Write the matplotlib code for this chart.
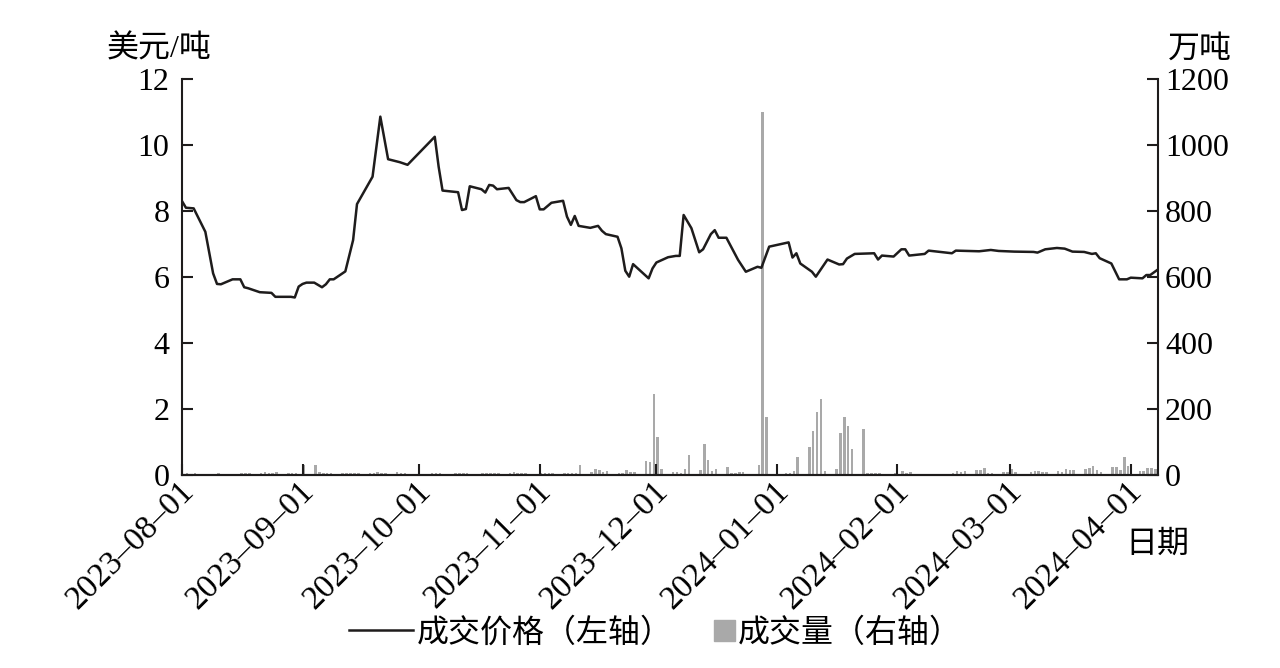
import matplotlib
matplotlib.use("Agg")
import matplotlib.pyplot as plt
import matplotlib.dates as mdates
import matplotlib.transforms as mtrans
import pandas as pd
from matplotlib.lines import Line2D
from matplotlib.patches import Patch

plt.rcParams['font.family'] = ['Liberation Serif', 'Noto Sans CJK SC']
plt.rcParams['axes.unicode_minus'] = False

# ---- price line (USD / t, left axis) ----
price_dates = [
    "2023-08-01", "2023-08-02", "2023-08-04", "2023-08-07", "2023-08-09", "2023-08-10",
    "2023-08-11", "2023-08-14", "2023-08-16", "2023-08-17", "2023-08-18", "2023-08-21",
    "2023-08-24", "2023-08-25", "2023-08-29", "2023-08-30", "2023-08-31", "2023-09-01",
    "2023-09-02", "2023-09-04", "2023-09-06", "2023-09-07", "2023-09-08", "2023-09-09",
    "2023-09-11", "2023-09-12", "2023-09-14", "2023-09-15", "2023-09-19", "2023-09-21",
    "2023-09-23", "2023-09-26", "2023-09-28", "2023-10-05", "2023-10-06", "2023-10-07",
    "2023-10-11", "2023-10-12", "2023-10-13", "2023-10-14", "2023-10-17", "2023-10-18",
    "2023-10-19", "2023-10-20", "2023-10-21", "2023-10-24", "2023-10-26", "2023-10-27",
    "2023-10-28", "2023-10-31", "2023-11-01", "2023-11-02", "2023-11-04", "2023-11-07",
    "2023-11-08", "2023-11-09", "2023-11-10", "2023-11-11", "2023-11-14", "2023-11-16",
    "2023-11-17", "2023-11-18", "2023-11-21", "2023-11-22", "2023-11-23", "2023-11-24",
    "2023-11-25", "2023-11-29", "2023-11-30", "2023-12-01", "2023-12-04", "2023-12-06",
    "2023-12-07", "2023-12-08", "2023-12-10", "2023-12-12", "2023-12-13", "2023-12-15",
    "2023-12-16", "2023-12-17", "2023-12-19", "2023-12-22", "2023-12-24", "2023-12-27",
    "2023-12-28", "2023-12-30", "2024-01-04", "2024-01-05", "2024-01-06", "2024-01-07",
    "2024-01-10", "2024-01-11", "2024-01-14", "2024-01-17", "2024-01-18", "2024-01-19",
    "2024-01-21", "2024-01-26", "2024-01-27", "2024-01-28", "2024-01-31", "2024-02-02",
    "2024-02-03", "2024-02-04", "2024-02-08", "2024-02-09", "2024-02-15", "2024-02-16",
    "2024-02-22", "2024-02-25", "2024-02-27", "2024-03-02", "2024-03-07", "2024-03-08",
    "2024-03-10", "2024-03-13", "2024-03-15", "2024-03-17", "2024-03-20", "2024-03-22",
    "2024-03-23", "2024-03-24", "2024-03-27", "2024-03-29", "2024-03-31", "2024-04-01",
    "2024-04-04", "2024-04-05", "2024-04-06", "2024-04-08",
]
price_values = [
    8.30, 8.10, 8.08, 7.37, 6.11, 5.79,
    5.78, 5.93, 5.93, 5.69, 5.66, 5.54,
    5.52, 5.40, 5.40, 5.38, 5.71, 5.79,
    5.83, 5.83, 5.69, 5.78, 5.93, 5.93,
    6.09, 6.17, 7.12, 8.21, 9.04, 10.86,
    9.57, 9.48, 9.40, 10.25, 9.34, 8.62,
    8.57, 8.03, 8.06, 8.75, 8.66, 8.56,
    8.79, 8.77, 8.66, 8.70, 8.33, 8.27,
    8.27, 8.45, 8.05, 8.05, 8.25, 8.31,
    7.83, 7.58, 7.85, 7.55, 7.49, 7.55,
    7.40, 7.30, 7.22, 6.87, 6.19, 6.01,
    6.39, 5.96, 6.26, 6.44, 6.60, 6.64,
    6.64, 7.88, 7.48, 6.75, 6.84, 7.30,
    7.42, 7.19, 7.19, 6.52, 6.16, 6.31,
    6.28, 6.92, 7.05, 6.59, 6.72, 6.41,
    6.16, 6.01, 6.53, 6.38, 6.39, 6.56,
    6.70, 6.72, 6.53, 6.65, 6.62, 6.84,
    6.84, 6.65, 6.70, 6.80, 6.72, 6.80,
    6.78, 6.82, 6.79, 6.77, 6.76, 6.74,
    6.84, 6.88, 6.86, 6.77, 6.76, 6.70,
    6.72, 6.57, 6.41, 5.93, 5.93, 5.98,
    5.96, 6.06, 6.06, 6.23,
]

# ---- traded volume (10k t, right axis) ----
volume_dates = [
    "2023-08-02", "2023-08-04", "2023-08-07", "2023-08-08", "2023-08-09", "2023-08-10",
    "2023-08-16", "2023-08-17", "2023-08-18", "2023-08-21", "2023-08-22", "2023-08-23",
    "2023-08-24", "2023-08-25", "2023-08-28", "2023-08-29", "2023-08-30",
    "2023-09-01", "2023-09-04", "2023-09-05", "2023-09-06", "2023-09-07", "2023-09-08",
    "2023-09-11", "2023-09-12", "2023-09-13", "2023-09-14", "2023-09-15", "2023-09-18",
    "2023-09-19", "2023-09-20", "2023-09-21", "2023-09-22", "2023-09-25", "2023-09-26",
    "2023-09-27",
    "2023-10-04", "2023-10-05", "2023-10-06", "2023-10-10", "2023-10-11", "2023-10-12",
    "2023-10-13", "2023-10-17", "2023-10-18", "2023-10-19", "2023-10-20", "2023-10-21",
    "2023-10-24", "2023-10-25", "2023-10-26", "2023-10-27", "2023-10-28",
    "2023-11-01", "2023-11-02", "2023-11-03", "2023-11-04", "2023-11-07", "2023-11-08",
    "2023-11-09", "2023-11-10", "2023-11-11", "2023-11-14", "2023-11-15", "2023-11-16",
    "2023-11-17", "2023-11-18", "2023-11-21", "2023-11-22", "2023-11-23", "2023-11-24",
    "2023-11-25", "2023-11-28", "2023-11-29", "2023-11-30",
    "2023-12-01", "2023-12-02", "2023-12-05", "2023-12-06", "2023-12-07", "2023-12-08",
    "2023-12-09", "2023-12-12", "2023-12-13", "2023-12-14", "2023-12-15", "2023-12-16",
    "2023-12-19", "2023-12-20", "2023-12-21", "2023-12-22", "2023-12-23", "2023-12-27",
    "2023-12-28", "2023-12-29",
    "2024-01-03", "2024-01-04", "2024-01-05", "2024-01-06", "2024-01-09", "2024-01-10",
    "2024-01-11", "2024-01-12", "2024-01-13", "2024-01-16", "2024-01-17", "2024-01-18",
    "2024-01-19", "2024-01-20", "2024-01-23", "2024-01-24", "2024-01-25", "2024-01-26",
    "2024-01-27", "2024-01-31",
    "2024-02-02", "2024-02-03", "2024-02-04", "2024-02-07", "2024-02-08", "2024-02-09",
    "2024-02-10", "2024-02-15", "2024-02-16", "2024-02-17", "2024-02-18", "2024-02-21",
    "2024-02-22", "2024-02-23", "2024-02-24", "2024-02-25", "2024-02-28", "2024-02-29",
    "2024-03-01", "2024-03-02", "2024-03-06", "2024-03-07", "2024-03-08", "2024-03-09",
    "2024-03-10", "2024-03-13", "2024-03-14", "2024-03-15", "2024-03-16", "2024-03-17",
    "2024-03-20", "2024-03-21", "2024-03-22", "2024-03-23", "2024-03-24", "2024-03-27",
    "2024-03-28", "2024-03-29", "2024-03-30", "2024-03-31",
    "2024-04-03", "2024-04-04", "2024-04-05", "2024-04-06", "2024-04-07",
]
volume_values = [
    5, 5, 4, 4, 4, 7,
    5, 5, 5, 5, 8, 7,
    7, 9, 5, 7, 7,
    31, 30, 9, 5, 5, 5,
    5, 5, 7, 5, 5, 5,
    5, 8, 7, 5, 9, 7,
    7,
    5, 5, 5, 5, 5, 5,
    5, 5, 5, 6, 6, 5,
    6, 8, 5, 5, 5,
    5, 5, 5, 5, 5, 7,
    5, 5, 29, 10, 17, 15,
    9, 11, 5, 7, 14, 9,
    10, 43, 40, 245,
    114, 17, 9, 9, 5, 19,
    62, 14, 94, 44, 11, 17,
    23, 5, 5, 9, 9, 29,
    1100, 175,
    7, 7, 12, 56, 85, 134,
    192, 231, 13, 17, 126, 175,
    150, 78, 140, 5, 5, 7,
    5, 5,
    13, 7, 9, 4, 4, 4,
    4, 6, 13, 8, 11, 14,
    15, 21, 5, 5, 8, 8,
    17, 9, 9, 13, 12, 10,
    9, 12, 9, 17, 15, 15,
    19, 22, 27, 15, 9, 25,
    25, 15, 54, 27,
    11, 11, 20, 20, 19,
]

left_ticks = [0, 2, 4, 6, 8, 10, 12]
right_ticks = [0, 200, 400, 600, 800, 1000, 1200]

ink = '#1e1c1c'
bar_grey = '#a9a9a9'
fs = 23

fig = plt.figure(figsize=(12.8, 6.68), dpi=100)
ax = fig.add_axes([0.1422, 0.2889, 0.7625, 0.5928])
ax2 = ax.twinx()

ax2.bar(pd.to_datetime(volume_dates), volume_values, width=0.65, align='edge',
        color=bar_grey, linewidth=0)
ax.plot(pd.to_datetime(price_dates), price_values, color=ink, lw=1.8)

ax.set_zorder(ax2.get_zorder() + 1)
ax.patch.set_visible(False)

ax.set_xlim(pd.Timestamp("2023-08-01"), pd.Timestamp("2024-04-08"))
ax.set_ylim(0, 12)
ax2.set_ylim(0, 1200)
ax.set_yticks(left_ticks)
ax2.set_yticks(right_ticks)

ax.xaxis.set_major_locator(mdates.MonthLocator())
ax.xaxis.set_major_formatter(mdates.DateFormatter('%Y–%m–%d'))

for a in (ax, ax2):
    a.spines['top'].set_visible(False)
    for s in a.spines.values():
        s.set_linewidth(1.5)
        s.set_color(ink)
ax.spines['right'].set_visible(False)
ax2.spines['left'].set_visible(False)

ax.tick_params(axis='y', direction='in', length=8, width=1.5, color=ink,
               labelsize=fs, pad=9)
ax2.tick_params(axis='y', direction='in', length=8, width=1.5, color=ink,
                labelsize=fs, pad=5)
ax.tick_params(axis='x', direction='in', length=8, width=1.5, color=ink,
               labelsize=fs + 1, pad=8, labelrotation=45)

# nudge the rotated date labels a little to the right, as in the source chart
nudge = mtrans.ScaledTranslation(0.07, 0, fig.dpi_scale_trans)
for lbl in ax.get_xticklabels():
    lbl.set_ha('right')
    lbl.set_va('center')
    lbl.set_rotation_mode('anchor')
    lbl.set_transform(lbl.get_transform() + nudge)

fig.text(0.124, 0.925, '美元/吨', ha='center', va='center', fontsize=fs)
fig.text(0.9375, 0.925, '万吨', ha='center', va='center', fontsize=fs)
fig.text(0.904, 0.184, '日期', ha='center', va='center', fontsize=fs)

line_handle = Line2D([], [], color=ink, lw=1.8)
fig.legend([line_handle], ['成交价格（左轴）'], loc='center left',
           bbox_to_anchor=(0.273, 0.052), frameon=False, fontsize=fs,
           handlelength=2.0, handletextpad=0.1, borderpad=0, borderaxespad=0)
bar_handle = Patch(color=bar_grey)
fig.legend([bar_handle], ['成交量（右轴）'], loc='center left',
           bbox_to_anchor=(0.558, 0.052), frameon=False, fontsize=fs,
           handlelength=0.65, handleheight=0.65, handletextpad=0.1,
           borderpad=0, borderaxespad=0)

fig.savefig('out.png', dpi=100)
